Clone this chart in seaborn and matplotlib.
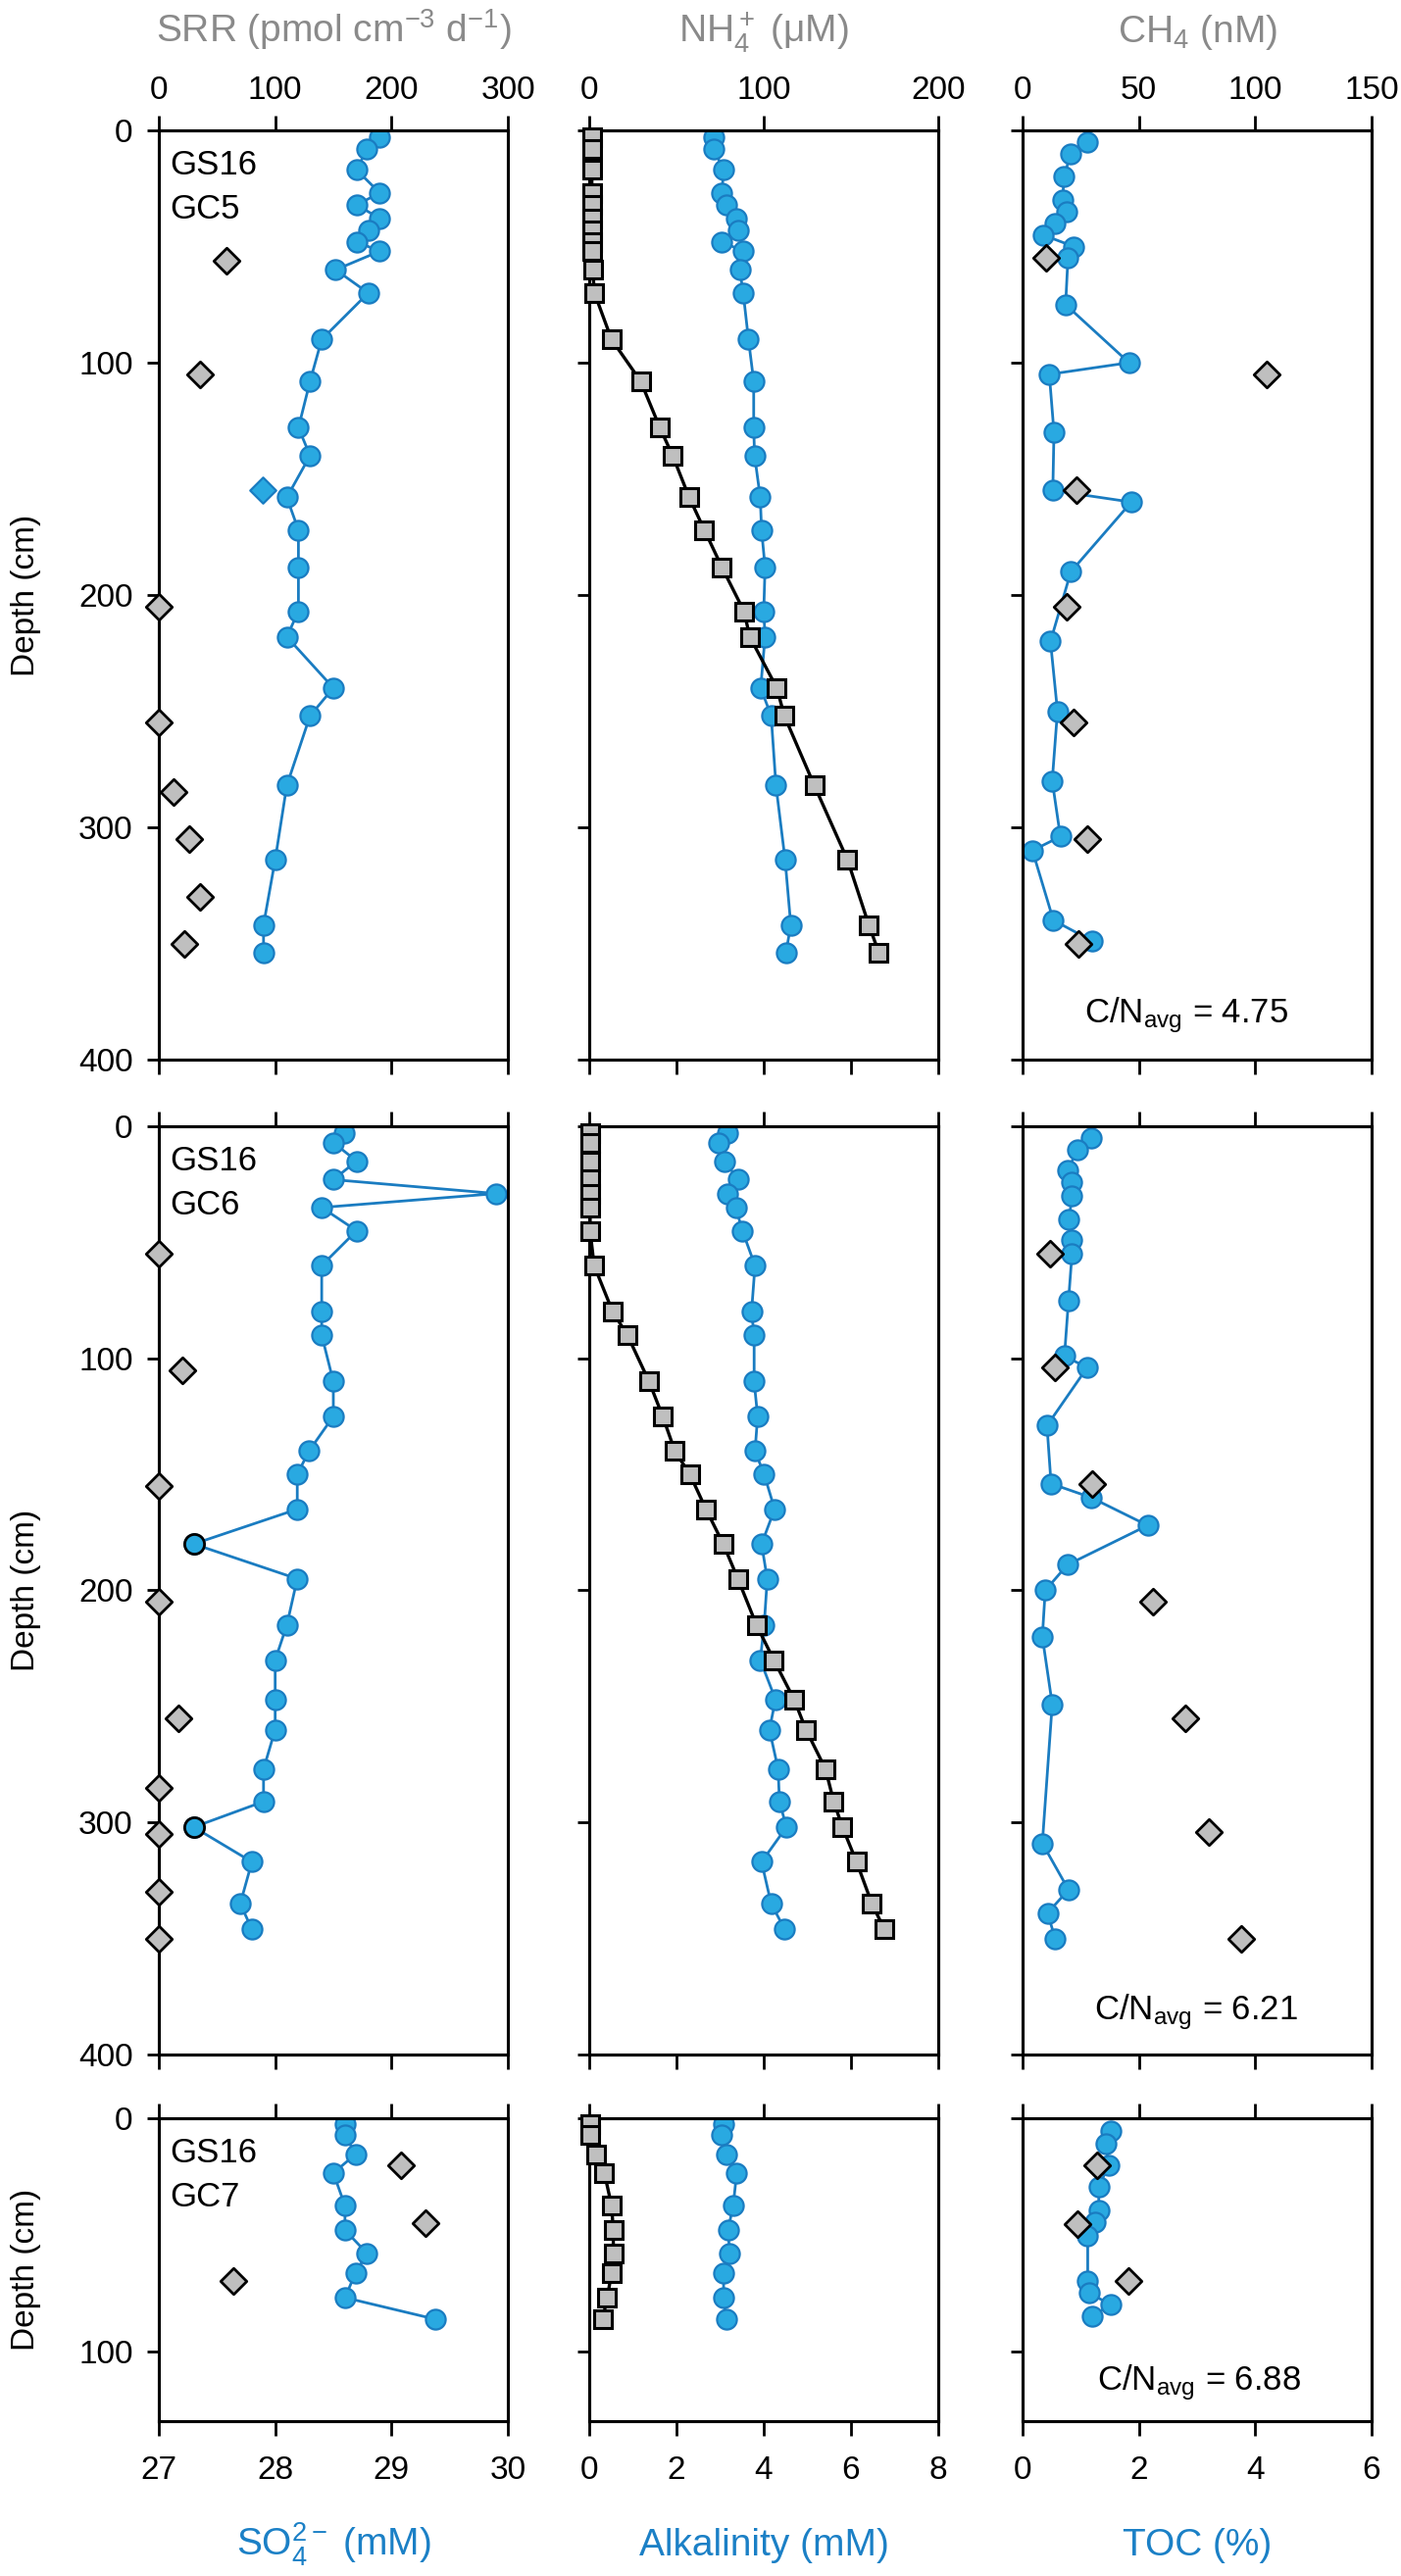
import matplotlib
matplotlib.use("Agg")
import matplotlib.pyplot as plt
import matplotlib.transforms as mtransforms
import seaborn as sns

sns.set_theme(style="ticks")
plt.rcParams["font.family"] = ["Liberation Sans", "DejaVu Sans"]
plt.rcParams["mathtext.fontset"] = "custom"
plt.rcParams["mathtext.rm"] = "Liberation Sans"
plt.rcParams["mathtext.it"] = "Liberation Sans:italic"
plt.rcParams["mathtext.default"] = "regular"

BLUE_FILL = "#29a9e1"
BLUE_EDGE = "#1a7cc1"
BLUE_TEXT = "#1b80c6"
GRAY_FILL = "#bfbfbf"
TITLE_GRAY = "#8a8a8a"

# ---- GS16 GC5 ----
gc5_depth = [3, 8, 17, 27, 32, 38, 43, 48, 52, 60, 70, 90, 108, 128, 140, 158, 172,
             188, 207, 218, 240, 252, 282, 314, 342, 354]
gc5_so4 = [28.90, 28.79, 28.70, 28.90, 28.70, 28.90, 28.80, 28.70, 28.90, 28.52, 28.80,
           28.40, 28.30, 28.20, 28.30, 28.10, 28.20, 28.20, 28.20, 28.10, 28.50, 28.30,
           28.10, 28.00, 27.90, 27.90]
gc5_nh4 = [1.5, 1.5, 1.5, 1.5, 1.5, 1.5, 1.5, 1.5, 1.5, 2, 3, 12.8, 29.5, 40.5, 47.8,
           57.3, 66, 76, 88.7, 92, 107.5, 111.8, 129, 148, 160.2, 166]
gc5_alk = [2.85, 2.85, 3.08, 3.04, 3.15, 3.38, 3.41, 3.04, 3.53, 3.45, 3.53, 3.65, 3.77,
           3.77, 3.79, 3.92, 3.95, 4.03, 4.00, 4.03, 3.93, 4.17, 4.28, 4.49, 4.62, 4.51]
gc5_so4_odd_depth = [155]
gc5_so4_odd = [27.89]
gc5_srr_depth = [56, 105, 205, 255, 285, 305, 330, 350]
gc5_srr = [58, 35, 0, 0, 13, 26, 35, 22]
gc5_toc_depth = [5, 10, 20, 30, 35, 40, 45, 50, 55, 75, 100, 105, 130, 155, 160, 190,
                 220, 250, 280, 304, 310, 340, 349]
gc5_toc = [1.11, 0.83, 0.71, 0.69, 0.75, 0.55, 0.35, 0.88, 0.78, 0.74, 1.83, 0.46, 0.54,
           0.52, 1.87, 0.83, 0.48, 0.60, 0.51, 0.65, 0.17, 0.53, 1.20]
gc5_ch4_depth = [55, 105, 155, 205, 255, 305, 350]
gc5_ch4 = [10, 105, 23, 19, 22, 28, 24]

# ---- GS16 GC6 ----
gc6_depth = [3, 7, 15, 23, 29, 35, 45, 60, 80, 90, 110, 125, 140, 150, 165, 180, 195,
             215, 230, 247, 260, 277, 291, 302, 317, 335, 346]
gc6_so4 = [28.59, 28.50, 28.70, 28.50, 29.90, 28.40, 28.70, 28.40, 28.40, 28.40, 28.50,
           28.50, 28.29, 28.19, 28.19, 27.30, 28.19, 28.10, 28.00, 28.00, 28.00, 27.90,
           27.90, 27.30, 27.80, 27.70, 27.80]
gc6_so4_flag_depth = [180, 302]
gc6_so4_flag = [27.30, 27.30]
gc6_nh4 = [0.5, 0.5, 0.5, 0.5, 0.5, 0.5, 0.5, 2.8, 13.5, 21.9, 34.3, 42.1, 49.1, 57.7,
           66.9, 76.8, 85.2, 95.9, 105.8, 117.4, 124.2, 135.4, 140.1, 145.1, 153.2, 162,
           169.1]
gc6_alk = [3.17, 2.96, 3.11, 3.41, 3.17, 3.36, 3.51, 3.80, 3.72, 3.78, 3.78, 3.86, 3.80,
           4.01, 4.25, 3.95, 4.08, 4.01, 3.92, 4.27, 4.13, 4.33, 4.36, 4.52, 3.95, 4.17,
           4.48]
gc6_srr_depth = [55, 105, 155, 205, 255, 285, 305, 330, 350]
gc6_srr = [0, 20, 0, 0, 17, 0, 0, 0, 0]
gc6_toc_depth = [5, 10, 19, 24, 30, 40, 49, 55, 75, 99, 104, 129, 154, 160, 172, 189,
                 200, 220, 249, 309, 329, 339, 350]
gc6_toc = [1.18, 0.94, 0.78, 0.84, 0.85, 0.80, 0.85, 0.85, 0.79, 0.72, 1.11, 0.42, 0.49,
           1.18, 2.15, 0.77, 0.39, 0.34, 0.51, 0.34, 0.79, 0.43, 0.56]
gc6_ch4_depth = [55, 104, 154, 205, 255, 304, 350]
gc6_ch4 = [12, 14, 30, 56, 70, 80, 94]

# ---- GS16 GC7 ----
gc7_depth = [2.5, 7, 15.5, 23.5, 37.5, 48, 58, 66.5, 77, 86.3]
gc7_so4 = [28.60, 28.60, 28.69, 28.50, 28.60, 28.60, 28.79, 28.69, 28.60, 29.38]
gc7_nh4 = [0.5, 0.5, 4.1, 8.7, 12.8, 13.8, 13.8, 12.8, 10.3, 7.7]
gc7_alk = [3.08, 3.04, 3.14, 3.38, 3.30, 3.18, 3.22, 3.08, 3.08, 3.14]
gc7_srr_depth = [20, 45, 70]
gc7_srr = [208, 229, 64]
gc7_toc_depth = [5.4, 11, 20, 29.6, 39.6, 44.8, 50.4, 70, 75, 80, 85]
gc7_toc = [1.51, 1.43, 1.48, 1.31, 1.31, 1.25, 1.12, 1.12, 1.15, 1.51, 1.20]
gc7_ch4_depth = [20, 45.5, 70]
gc7_ch4 = [32, 23.5, 45.4]

core_names = ["GC5", "GC6", "GC7"]
cn_ratios = ["4.75", "6.21", "6.88"]
depth_limits = [400, 400, 130]
depth_ticks = [[0, 100, 200, 300, 400], [0, 100, 200, 300, 400], [0, 100]]

top_titles = ["SRR (pmol cm$^{-3}$ d$^{-1}$)", "NH$_4^+$ (μM)", "CH$_4$ (nM)"]
bottom_titles = ["SO$_4^{2-}$ (mM)", "Alkalinity (mM)", "TOC (%)"]
bottom_lims = [(27, 30), (0, 8), (0, 6)]
bottom_ticks = [[27, 28, 29, 30], [0, 2, 4, 6, 8], [0, 2, 4, 6]]
top_lims = [(0, 300), (0, 200), (0, 150)]
top_ticks = [[0, 100, 200, 300], [0, 100, 200], [0, 50, 100, 150]]

W, H = 1429, 2628
col_left = [162, 601, 1043]
col_width = 356
row_top = [133, 1149, 2161]
row_bottom = [1081, 2096, 2470]

CIRCLE = 14.5
DIAMOND = 13.5


def blue_profile(ax, x, depth):
    sns.lineplot(x=x, y=depth, sort=False, estimator=None, ax=ax, color=BLUE_EDGE,
                 linewidth=2.0, marker="o", markersize=CIRCLE, markerfacecolor=BLUE_FILL,
                 markeredgecolor=BLUE_EDGE, markeredgewidth=1.6, zorder=3)


def gray_diamonds(ax, x, depth):
    sns.scatterplot(x=x, y=depth, ax=ax, marker="D", s=DIAMOND ** 2, color=GRAY_FILL,
                    edgecolor="black", linewidth=2.0, zorder=4, clip_on=False)


def style_axes(ax, ax2, row, col):
    for a in (ax, ax2):
        for sp in a.spines.values():
            sp.set_visible(True)
            sp.set_linewidth(2.2)
            sp.set_color("black")
    ax.set_xlim(*bottom_lims[col])
    ax.set_xticks(bottom_ticks[col])
    ax2.set_xlim(*top_lims[col])
    ax2.set_xticks(top_ticks[col])
    ax.set_ylim(depth_limits[row], 0)
    ax.set_yticks(depth_ticks[row])
    ax.tick_params(axis="x", direction="out", bottom=True, top=False,
                   labelbottom=(row == 2), length=11, width=2, labelsize=24, pad=14,
                   colors="black")
    ax2.tick_params(axis="x", direction="out", top=True, bottom=False,
                    labeltop=(row == 0), length=11, width=2, labelsize=24, pad=7,
                    colors="black")
    ax.tick_params(axis="y", direction="out", left=True, right=False,
                   labelleft=(col == 0), length=9, width=2, labelsize=24, pad=10,
                   colors="black")
    ax.set_xlabel("")
    ax.set_ylabel("")
    ax2.set_xlabel("")
    ax2.set_ylabel("")


fig = plt.figure(figsize=(W / 100, H / 100), dpi=100)

srr_sets = [(gc5_srr, gc5_srr_depth), (gc6_srr, gc6_srr_depth), (gc7_srr, gc7_srr_depth)]
so4_sets = [(gc5_so4, gc5_depth), (gc6_so4, gc6_depth), (gc7_so4, gc7_depth)]
nh4_sets = [(gc5_nh4, gc5_depth), (gc6_nh4, gc6_depth), (gc7_nh4, gc7_depth)]
alk_sets = [(gc5_alk, gc5_depth), (gc6_alk, gc6_depth), (gc7_alk, gc7_depth)]
toc_sets = [(gc5_toc, gc5_toc_depth), (gc6_toc, gc6_toc_depth), (gc7_toc, gc7_toc_depth)]
ch4_sets = [(gc5_ch4, gc5_ch4_depth), (gc6_ch4, gc6_ch4_depth), (gc7_ch4, gc7_ch4_depth)]

for row in range(3):
    bottom = 1 - row_bottom[row] / H
    height = (row_bottom[row] - row_top[row]) / H
    for col in range(3):
        ax = fig.add_axes([col_left[col] / W, bottom, col_width / W, height])
        ax2 = ax.twiny()
        ax.set_facecolor("white")

        if col == 0:
            blue_profile(ax, *so4_sets[row])
            if row == 0:
                sns.scatterplot(x=gc5_so4_odd, y=gc5_so4_odd_depth, ax=ax, marker="D",
                                s=DIAMOND ** 2, color=BLUE_FILL, edgecolor=BLUE_EDGE,
                                linewidth=1.6, zorder=4)
            if row == 1:
                sns.scatterplot(x=gc6_so4_flag, y=gc6_so4_flag_depth, ax=ax, marker="o",
                                s=CIRCLE ** 2, color=BLUE_FILL, edgecolor="black",
                                linewidth=2.0, zorder=5)
            gray_diamonds(ax2, *srr_sets[row])
        elif col == 1:
            blue_profile(ax, *alk_sets[row])
            x, d = nh4_sets[row]
            sns.lineplot(x=x, y=d, sort=False, estimator=None, ax=ax2, color="black",
                         linewidth=2.4, marker="s", markersize=12.5,
                         markerfacecolor=GRAY_FILL, markeredgecolor="black",
                         markeredgewidth=2.2, zorder=4, clip_on=False)
        else:
            blue_profile(ax, *toc_sets[row])
            gray_diamonds(ax2, *ch4_sets[row])

        style_axes(ax, ax2, row, col)

        if col == 0:
            trans = mtransforms.blended_transform_factory(ax.transAxes, ax.transData)
            ax.text(0.031, 19, "GS16", transform=trans, fontsize=25, va="baseline",
                    ha="left", color="black")
            ax.text(0.031, 38, core_names[row], transform=trans, fontsize=25,
                    va="baseline", ha="left", color="black")
        if col == 2:
            trans = mtransforms.blended_transform_factory(ax.transAxes, ax.transData)
            cn_depth = [384, 385, 116.6][row]
            cn_x = [0.47, 0.496, 0.505][row]
            ax.text(cn_x, cn_depth, "C/N$_{avg}$ = " + cn_ratios[row], transform=trans,
                    fontsize=25, va="baseline", ha="center", color="black")

    fig.text(27 / W, 1 - (row_top[row] + row_bottom[row]) / 2 / H, "Depth (cm)",
             rotation=90, ha="center", va="center", fontsize=24, color="black")

col_center = [(c + col_width / 2) / W for c in col_left]
for col in range(3):
    fig.text(col_center[col], 1 - 43 / H, top_titles[col], ha="center", va="baseline",
             fontsize=28, color=TITLE_GRAY)
    fig.text(col_center[col], 1 - 2607 / H, bottom_titles[col], ha="center",
             va="baseline", fontsize=28, color=BLUE_TEXT)

fig.savefig("out.png", dpi=100, facecolor="white")
